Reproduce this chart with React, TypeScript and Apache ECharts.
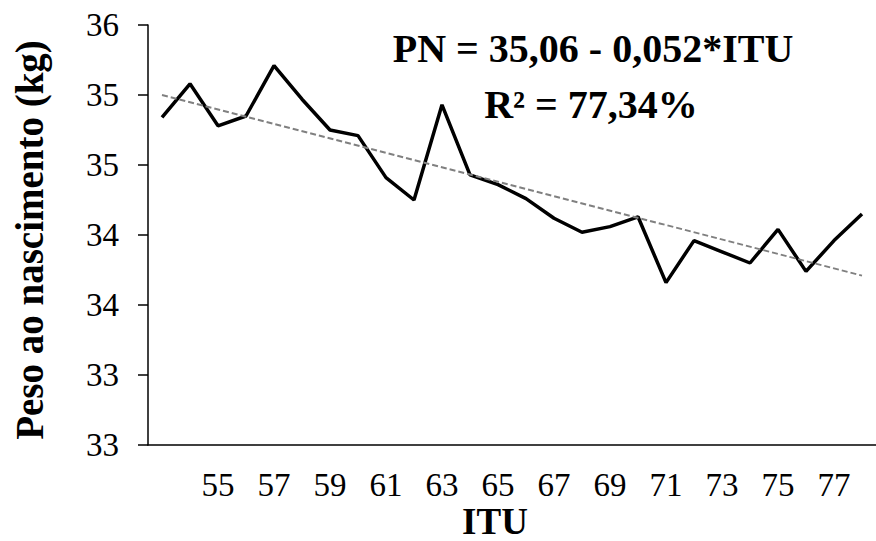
import React, { useEffect, useRef } from 'react';
import * as echarts from 'echarts';

const itu = ['53', '54', '55', '56', '57', '58', '59', '60', '61', '62', '63', '64', '65', '66', '67', '68', '69', '70', '71', '72', '73', '74', '75', '76', '77', '78'];
const peso = [35.34, 35.58, 35.28, 35.35, 35.71, 35.47, 35.25, 35.21, 34.91, 34.75, 35.43, 34.93, 34.86, 34.76, 34.62, 34.52, 34.56, 34.63, 34.16, 34.46, 34.38, 34.30, 34.54, 34.24, 34.46, 34.65];
const trendEnds = [35.5, 34.21];
const yTickLabels = ['33', '33', '34', '34', '35', '35', '36'];
const equationText = 'PN = 35,06 - 0,052*ITU';
const r2Text = 'R² = 77,34%';
const xTitle = 'ITU';
const yTitle = 'Peso ao nascimento (kg)';

const FONT = 'Liberation Serif';

export default function App() {
  const ref = useRef<HTMLDivElement>(null);
  useEffect(() => {
    const chart = echarts.init(ref.current as HTMLDivElement, null, { renderer: 'svg' });
    const textStyle = (text: string, size: number) => ({
      text,
      fontFamily: FONT,
      fontSize: size,
      fontWeight: 'bold',
      fill: '#000',
      textAlign: 'center',
      textVerticalAlign: 'middle',
      align: 'center',
      verticalAlign: 'middle',
    });
    chart.setOption({
      animation: false,
      backgroundColor: '#ffffff',
      grid: { left: 148, right: 0, top: 25, bottom: 96 },
      xAxis: {
        type: 'category',
        data: itu,
        boundaryGap: true,
        axisLine: { lineStyle: { color: '#000', width: 1.5 } },
        axisTick: { alignWithLabel: true, interval: 0, length: 7, lineStyle: { color: '#000', width: 1.5 } },
        axisLabel: {
          interval: (i: number) => i > 0 && i % 2 === 0,
          margin: 23,
          fontFamily: FONT,
          fontSize: 33,
          color: '#000',
        },
        splitLine: { show: false },
      },
      yAxis: {
        type: 'value',
        min: 33,
        max: 36,
        interval: 0.5,
        axisLine: { show: true, lineStyle: { color: '#000', width: 1.5 } },
        axisTick: { show: true, length: 10, lineStyle: { color: '#000', width: 1.5 } },
        axisLabel: {
          formatter: (_v: number, i: number) => yTickLabels[i],
          margin: 29,
          fontFamily: FONT,
          fontSize: 33,
          color: '#000',
        },
        splitLine: { show: false },
      },
      series: [
        {
          type: 'line',
          data: peso,
          symbol: 'none',
          lineStyle: { color: '#000', width: 3.5 },
          z: 2,
        },
        {
          type: 'line',
          data: [[itu[0], trendEnds[0]], [itu[itu.length - 1], trendEnds[1]]],
          symbol: 'none',
          lineStyle: { color: '#808080', width: 2, type: [6, 3] },
          z: 3,
        },
      ],
      graphic: [
        { type: 'text', x: 593, y: 48, style: textStyle(equationText, 40) },
        { type: 'text', x: 591, y: 104, style: textStyle(r2Text, 40) },
        { type: 'text', x: 495, y: 521, style: textStyle(xTitle, 37) },
        { type: 'text', x: 29, y: 240, rotation: Math.PI / 2, style: textStyle(yTitle, 39) },
      ],
    });
    return () => chart.dispose();
  }, []);
  return (
    <div
      ref={ref}
      style={{ position: 'absolute', left: 0, top: 0, width: 876, height: 541 }}
    />
  );
}
